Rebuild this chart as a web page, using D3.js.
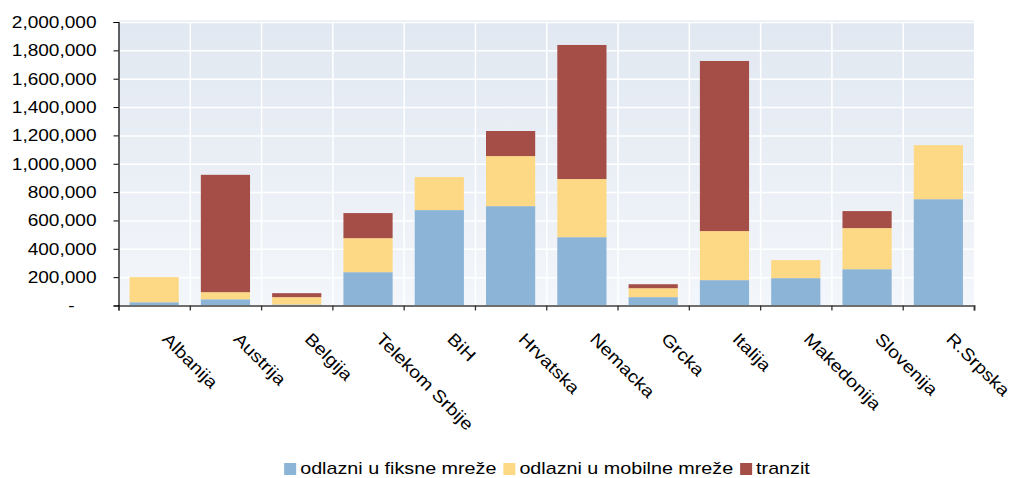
<!DOCTYPE html>
<html>
<head>
<meta charset="utf-8">
<script src="https://cdn.jsdelivr.net/npm/d3@7"></script>
<style>
  body { margin: 0; background: #fff; }
  text { font-family: "Liberation Sans", Arial, sans-serif; fill: #000; }
</style>
</head>
<body>
<svg id="chart"></svg>
<script>
let categories = ["Albanija", "Austrija", "Belgija", "Telekom Srbije", "BiH", "Hrvatska", "Nemacka", "Grcka", "Italija", "Makedonija", "Slovenija", "R.Srpska"];
let fiksne  = [23000, 44000, 7000, 235000, 673000, 701000, 482000, 59000, 179000, 193000, 256000, 750000];
let mobilne = [177000, 50000, 52000, 240000, 233000, 353000, 410000, 63000, 346000, 127000, 290000, 381000];
let tranzit = [0, 828000, 28000, 177000, 0, 177000, 946000, 28000, 1200000, 0, 120000, 0];
let seriesNames = ["odlazni u fiksne mreže", "odlazni u mobilne mreže", "tranzit"];
let seriesColors = ["#8cb4d7", "#fdd885", "#a54e48"];
let yTicks = [0, 200000, 400000, 600000, 800000, 1000000, 1200000, 1400000, 1600000, 1800000, 2000000];

let svg = d3.select("svg#chart").attr("width", 1010).attr("height", 478);
let plot = { left: 118.5, right: 974, top: 22, bottom: 305.5 };

// widen text like the original (horizontally stretched export)
function stretch(sel, k) {
  sel.each(function() {
    let w = this.getComputedTextLength();
    this.__w = w * k;
    d3.select(this).attr("textLength", w * k).attr("lengthAdjust", "spacingAndGlyphs");
  });
}

let rows = categories.map(function(c, i) {
  return { cat: c, fiksne: fiksne[i], mobilne: mobilne[i], tranzit: tranzit[i] };
});
let stacked = d3.stack().keys(["fiksne", "mobilne", "tranzit"])(rows);

let x = d3.scaleBand().domain(categories).range([plot.left, plot.right]).paddingInner(0.31).paddingOuter(0.155);
let y = d3.scaleLinear().domain([0, 2000000]).range([plot.bottom, plot.top]);
let idx = d3.scaleLinear().domain([0, categories.length]).range([plot.left, plot.right]);

// background gradient
let defs = svg.append("defs");
let grad = defs.append("linearGradient").attr("id", "bg").attr("x1", 0).attr("y1", 0).attr("x2", 0).attr("y2", 1);
grad.append("stop").attr("offset", "0%").attr("stop-color", "#e1e8f1");
grad.append("stop").attr("offset", "100%").attr("stop-color", "#f3f6fa");
svg.append("rect").attr("x", plot.left).attr("y", plot.top - 1.5)
  .attr("width", plot.right - plot.left).attr("height", plot.bottom - plot.top + 1.5)
  .attr("fill", "url(#bg)");

// gridlines
let yGrid = d3.axisLeft(y).tickValues(yTicks).tickSize(-(plot.right - plot.left)).tickFormat("");
svg.append("g").attr("class", "gridlines")
  .attr("transform", "translate(" + plot.left + ",0)")
  .call(yGrid)
  .call(g => g.select(".domain").remove())
  .selectAll("line").attr("stroke", "#ffffff").attr("stroke-width", 1.5);
let xGrid = d3.axisBottom(idx).tickValues(d3.range(1, categories.length)).tickSize(-(plot.bottom - plot.top)).tickFormat("");
svg.append("g").attr("class", "gridlines")
  .attr("transform", "translate(0," + plot.bottom + ")")
  .call(xGrid)
  .call(g => g.select(".domain").remove())
  .selectAll("line").attr("stroke", "#ffffff").attr("stroke-width", 1.5);

// bars
svg.append("g").selectAll("g")
  .data(stacked).join("g")
  .attr("fill", (d, i) => seriesColors[i])
  .selectAll("rect")
  .data(d => d).join("rect")
  .attr("x", d => x(d.data.cat))
  .attr("width", x.bandwidth())
  .attr("y", d => y(d[1]))
  .attr("height", d => y(d[0]) - y(d[1]));

// x axis
let xAxis = d3.axisBottom(idx).tickValues(d3.range(0, categories.length + 1)).tickSize(5).tickFormat("");
let xg = svg.append("g").attr("transform", "translate(0," + plot.bottom + ")").call(xAxis);
xg.select(".domain").attr("stroke", "#6e6e6e").attr("stroke-width", 2);
xg.selectAll(".tick line").attr("stroke", "#333").attr("stroke-width", 1.3);

svg.append("g").selectAll("text")
  .data(categories).join("text")
  .attr("transform", d => "translate(" + (x(d) + x.bandwidth() / 2 + 7) + "," + 340 + ")rotate(45)")
  .style("font-size", "17px")
  .text(d => d)
  .call(stretch, 1.16);

// y axis
let yAxis = d3.axisLeft(y).tickValues(yTicks).tickSize(5).tickPadding(17)
  .tickFormat(d => d === 0 ? "-" : d3.format(",")(d));
let yg = svg.append("g").attr("transform", "translate(" + plot.left + ",0)").call(yAxis);
yg.select(".domain").attr("stroke", "#000").attr("stroke-width", 1.2);
yg.selectAll(".tick line").attr("stroke", "#000");
yg.selectAll(".tick text").style("font-size", "17px").style("font-family", "'Liberation Sans', Arial, sans-serif").attr("fill", "#000")
  .call(stretch, 1.12);
yg.selectAll(".tick text").filter(d => d === 0).attr("x", -44);

// legend
let legend = svg.append("g");
let lx = 0;
seriesNames.forEach(function(name, i) {
  legend.append("rect").attr("x", lx).attr("y", -11).attr("width", 12).attr("height", 12).attr("fill", seriesColors[i]);
  let t = legend.append("text").attr("x", lx + 16).attr("y", 0).style("font-size", "17px").text(name).call(stretch, 1.16);
  lx += 16 + t.node().__w + 7;
});
legend.attr("transform", "translate(" + (547 - (lx - 7) / 2) + ",474)");
</script>
</body>
</html>
